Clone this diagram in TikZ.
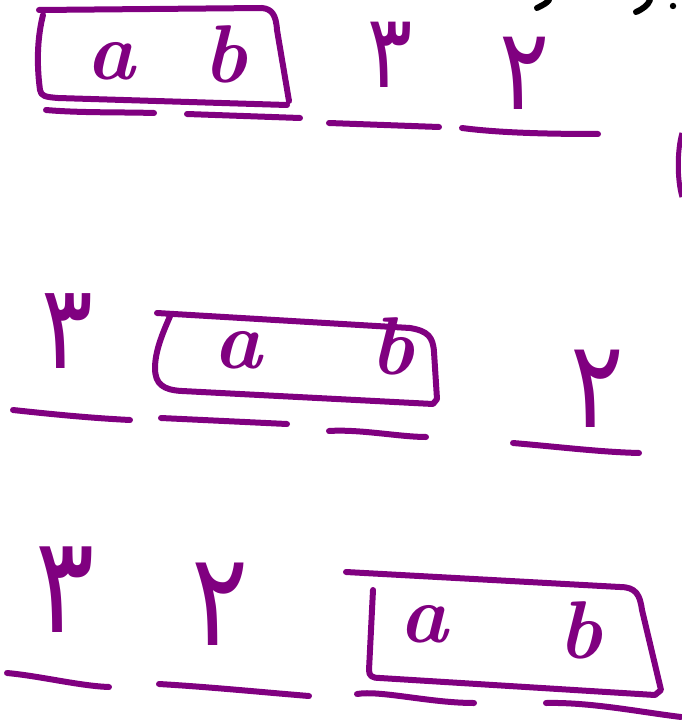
\documentclass[tikz,border=0pt]{standalone}
\usepackage{fontspec}
\TeXXeTstate=1
\newfontfamily\arabicfont[Script=Arabic]{DejaVu Sans}
\definecolor{ink}{RGB}{128,0,128}
\tikzset{
  pen/.style={draw=ink, line width=6pt, line cap=round, line join=round},
  blackpen/.style={draw=black, line width=6pt, line cap=round},
  letter/.style={text=ink, inner sep=0pt, anchor=base, font=\fontsize{82}{82}\selectfont\bfseries\itshape},
  digit/.style={text=ink, inner sep=0pt, anchor=base, xscale=0.82, font=\arabicfont\fontsize{#1}{#1}\selectfont},
  digit/.default=120
}
\begin{document}
\begin{tikzpicture}[x=1pt,y=-1pt]
\useasboundingbox (0,0) rectangle (681,722);
% ---------- row 1 ----------
\node[letter] (a1) at (111,80) {a};
\node[letter] (b1) at (225,83) {b};
\node[digit=103] (t1) at (390,88) {\beginR ٣\endR};
\node[digit=114] (d1) at (525,110) {\beginR ٢\endR};
\draw[pen] (39,10) -- (262,8) .. controls (272,9) and (276,15) .. (277,30) -- (289,101);
\draw[pen] (287,105) -- (58,98) .. controls (45,97) and (41,96) .. (40,90) .. controls (36,60) and (38,35) .. (43,15);
\draw[pen] (46,110) .. controls (80,113) and (120,112) .. (154,113);
\draw[pen] (187,114) -- (300,118);
\draw[pen] (329,123) -- (439,127);
\draw[pen] (462,128) .. controls (500,133) and (550,134) .. (598,134);
% black fragments, top right
\draw[blackpen] (537,8) .. controls (543,5) and (547,3) .. (549,0);
\draw[blackpen] (636,12) .. controls (643,9) and (648,5) .. (650,0);
\fill[black] (673,6) circle (3.2pt);
\draw[draw=ink, line width=5pt] (682,133) .. controls (677,150) and (677,180) .. (682,197);
% ---------- row 2 ----------
\node[digit=118] (t2) at (67,368) {\beginR ٣\endR};
\node[letter] (a2) at (238,368) {a};
\node[letter] (b2) at (392,374) {b};
\node[digit=122] (d2) at (597,427) {\beginR ٢\endR};
\draw[pen] (157,313) -- (410,328) .. controls (428,331) and (433,337) .. (434,352) -- (437,399) -- (433,404) -- (182,391) .. controls (163,390) and (155,384) .. (155,368) .. controls (155,350) and (164,330) .. (171,314);
\draw[pen] (13,410) .. controls (50,414) and (90,418) .. (130,420);
\draw[pen] (161,418) -- (287,424);
\draw[pen] (329,431) .. controls (360,429) and (400,437) .. (426,437);
\draw[pen] (513,443) .. controls (560,447) and (600,452) .. (639,453);
% ---------- row 3 ----------
\node[digit=135] (t3) at (65,632) {\beginR ٣\endR};
\node[digit=130] (d3) at (220,645) {\beginR ٢\endR};
\node[letter] (a3) at (424,642) {a};
\node[letter] (b3) at (580,658) {b};
\draw[pen] (346,572) -- (620,587) .. controls (636,587) and (640,595) .. (642,610) -- (661,690) -- (655,695) -- (380,678) .. controls (372,678) and (369,676) .. (369,670) -- (373,590);
\draw[pen] (7,673) .. controls (40,676) and (80,686) .. (109,687);
\draw[pen] (159,684) .. controls (210,687) and (260,692) .. (309,696);
\draw[pen] (357,694) .. controls (380,690) and (430,703) .. (474,703);
\draw[pen] (546,703) .. controls (590,702) and (640,712) .. (681,717);
\end{tikzpicture}
\end{document}
